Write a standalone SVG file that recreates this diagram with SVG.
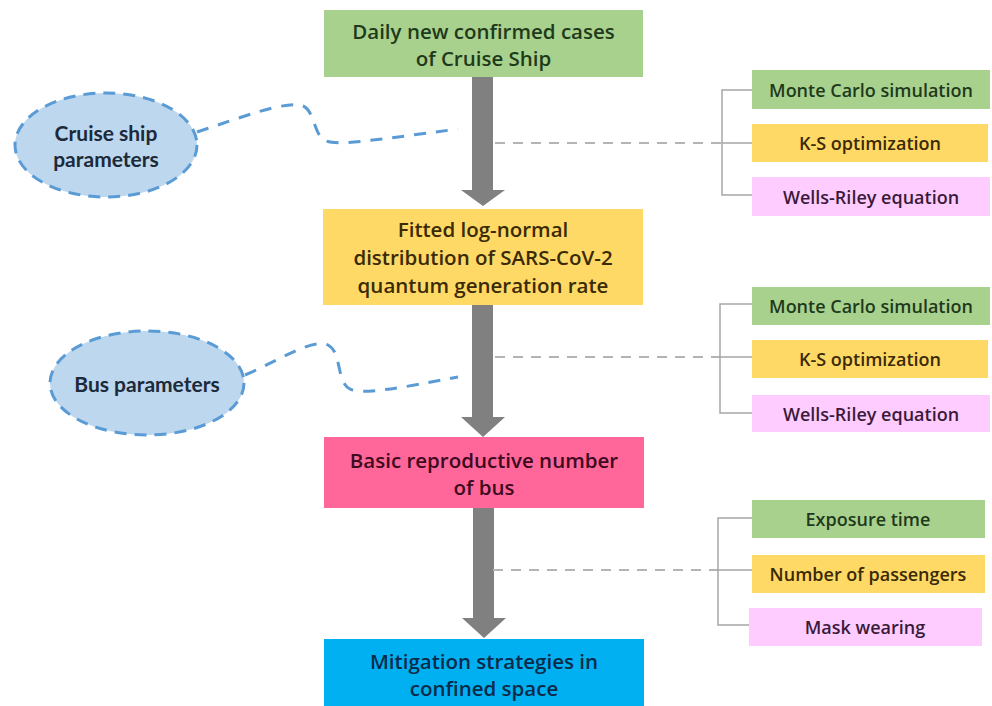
<svg xmlns="http://www.w3.org/2000/svg" width="992" height="706" viewBox="0 0 992 706">
<style>
.t{font-family:"Open Sans","Noto Sans","Liberation Sans",sans-serif;font-weight:600;text-anchor:middle;dominant-baseline:central}
.main{font-size:20.5px}
.side{font-size:18px}
.ell{font-family:Lato,"Liberation Sans",sans-serif;font-weight:700;font-size:21px;text-anchor:middle;dominant-baseline:central;fill:#1c2a3a}
.ellipse{fill:#bdd7ee;stroke:#5b9bd5;stroke-width:3;stroke-dasharray:12 8}
.wave{fill:none;stroke:#5b9bd5;stroke-width:3;stroke-dasharray:12 10}
.gdash{fill:none;stroke:#b4b4b4;stroke-width:2;stroke-dasharray:10 8}
.br{fill:none;stroke:#a6a6a6;stroke-width:1.5}
.arrow{fill:#808080}
.g{fill:#a9d18e}.y{fill:#ffd966}.p{fill:#ffccff}
</style>
<rect width="992" height="706" fill="#ffffff"/>
<g id="connectors">
<path class="arrow" d="M472,77 H493 V190 H505 L483,206 L461,190 H472 Z"/>
<path class="arrow" d="M472,305 H493 V417 H505 L483,437 L461,417 H472 Z"/>
<path class="arrow" d="M473,508 H494 V618 H506 L484,638 L462,618 H473 Z"/>
<path class="wave" d="M197,132 C240,118 285,100 303,106 C314,110 314,134 324,140 C334,146 360,142 458,129"/>
<path class="wave" d="M245,375 C280,360 312,338 328,345 C342,352 336,382 350,389 C362,395 400,388 458,377"/>
<path class="gdash" d="M495,143 H722"/>
<path class="gdash" d="M495,357 H720"/>
<path class="gdash" d="M493,570 H718"/>
<path class="br" d="M752,90 H722 V195 H752 M722,143 H752"/>
<path class="br" d="M752,304 H720 V413 H752 M720,357 H752"/>
<path class="br" d="M752,518 H718 V625 H752 M718,570 H752"/>
</g>
<g id="n-daily">
<rect x="324" y="10" width="319" height="67" fill="#a9d18e"/>
<text class="t main" x="483.5" y="31" fill="#1e3a1a">Daily new confirmed cases</text>
<text class="t main" x="483.5" y="58" fill="#1e3a1a">of Cruise Ship</text>
</g>
<g id="n-fitted">
<rect x="323" y="209" width="320" height="96" fill="#ffd966"/>
<text class="t main" x="483" y="229" fill="#3a2a05">Fitted log-normal</text>
<text class="t main" x="483" y="257" fill="#3a2a05">distribution of SARS-CoV-2</text>
<text class="t main" x="483" y="285" fill="#3a2a05">quantum generation rate</text>
</g>
<g id="n-basic">
<rect x="324" y="437" width="320" height="71" fill="#ff6699"/>
<text class="t main" x="484" y="460" fill="#3d0a1e">Basic reproductive number</text>
<text class="t main" x="484" y="487" fill="#3d0a1e">of bus</text>
</g>
<g id="n-mitigation">
<rect x="324" y="639" width="320" height="67" fill="#00b0f0"/>
<text class="t main" x="484" y="661" fill="#0a2a4a">Mitigation strategies in</text>
<text class="t main" x="484" y="688" fill="#0a2a4a">confined space</text>
</g>
<g id="n-cruise-params">
<ellipse class="ellipse" cx="106" cy="145" rx="91" ry="52"/>
<text class="ell" x="106" y="132">Cruise ship</text>
<text class="ell" x="106" y="158">parameters</text>
</g>
<g id="n-bus-params">
<ellipse class="ellipse" cx="147" cy="383" rx="97" ry="52"/>
<text class="ell" x="147" y="383">Bus parameters</text>
</g>
<g id="n-mc1">
<rect x="752" y="70" width="238" height="39" class="g"/>
<text class="t side" x="871" y="89.5" fill="#1e3a1a">Monte Carlo simulation</text>
</g>
<g id="n-ks1">
<rect x="752" y="124" width="236" height="38" class="y"/>
<text class="t side" x="870" y="143" fill="#3a2a05">K-S optimization</text>
</g>
<g id="n-wr1">
<rect x="752" y="177" width="238" height="39" class="p"/>
<text class="t side" x="871" y="196.5" fill="#3a1a3a">Wells-Riley equation</text>
</g>
<g id="n-mc2">
<rect x="752" y="287" width="238" height="38" class="g"/>
<text class="t side" x="871" y="306" fill="#1e3a1a">Monte Carlo simulation</text>
</g>
<g id="n-ks2">
<rect x="752" y="340" width="236" height="38" class="y"/>
<text class="t side" x="870" y="359" fill="#3a2a05">K-S optimization</text>
</g>
<g id="n-wr2">
<rect x="752" y="395" width="238" height="37" class="p"/>
<text class="t side" x="871" y="413.5" fill="#3a1a3a">Wells-Riley equation</text>
</g>
<g id="n-exposure">
<rect x="752" y="500" width="233" height="38" class="g"/>
<text class="t side" x="868" y="519" fill="#1e3a1a">Exposure time</text>
</g>
<g id="n-passengers">
<rect x="752" y="555" width="233" height="38" class="y"/>
<text class="t side" x="868" y="574" fill="#3a2a05">Number of passengers</text>
</g>
<g id="n-mask">
<rect x="749" y="608" width="233" height="38" class="p"/>
<text class="t side" x="865" y="627" fill="#3a1a3a">Mask wearing</text>
</g>
</svg>
